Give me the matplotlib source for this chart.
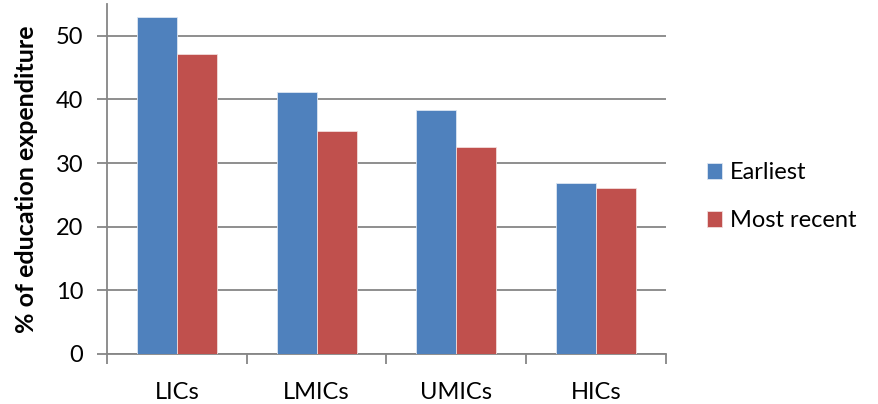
import matplotlib
matplotlib.use("Agg")
import matplotlib.pyplot as plt
import numpy as np

categories = ["LICs", "LMICs", "UMICs", "HICs"]
earliest = [53.0, 41.2, 38.4, 26.8]
most_recent = [47.2, 35.1, 32.6, 26.1]
series_names = ["Earliest", "Most recent"]
y_ticks = [0, 10, 20, 30, 40, 50]

plt.rcParams["font.family"] = ["Lato", "DejaVu Sans"]

BLUE = "#4F81BD"
RED = "#C0504D"
GRID = "#868686"

fig = plt.figure(figsize=(8.79, 4.04), dpi=100)
ax = fig.add_axes([107 / 879, 1 - 354 / 404, (666 - 107) / 879, 350 / 404])

x = np.arange(len(categories))
w = 0.2857
ax.bar(x - w / 2, earliest, width=w, color=BLUE, edgecolor="#DCE6F2",
       linewidth=0.6, label=series_names[0], zorder=3)
ax.bar(x + w / 2, most_recent, width=w, color=RED, edgecolor="#F2DCDB",
       linewidth=0.6, label=series_names[1], zorder=3)

ax.set_xlim(-0.5, len(categories) - 0.5)
ax.set_ylim(0, 55)

ax.set_yticks(y_ticks)
ax.set_yticklabels([str(v) for v in y_ticks], fontsize=17)
ax.yaxis.grid(True, color=GRID, linewidth=1.3, zorder=0)

ax.set_xticks(x)
ax.set_xticklabels(categories, fontsize=17)
ax.set_xticks(np.arange(-0.5, len(categories)), minor=True)
ax.tick_params(axis="x", which="major", length=0, pad=20)
ax.tick_params(axis="x", which="minor", length=7, width=1.3, color=GRID)
ax.tick_params(axis="y", length=7, width=1.3, color=GRID, pad=10)

for side in ["top", "right"]:
    ax.spines[side].set_visible(False)
for side in ["left", "bottom"]:
    ax.spines[side].set_color(GRID)
    ax.spines[side].set_linewidth(1.3)

ax.set_ylabel("% of education expenditure", fontsize=18, fontweight="bold")
ax.yaxis.set_label_coords(-(107 - 38) / 559, 0.5)

ax.legend(loc="center left", bbox_to_anchor=(1.056, 0.449), frameon=False,
          fontsize=17, handlelength=0.65, handleheight=0.65,
          handletextpad=0.35, labelspacing=1.15, borderaxespad=0)

fig.savefig("out.png", dpi=100)
